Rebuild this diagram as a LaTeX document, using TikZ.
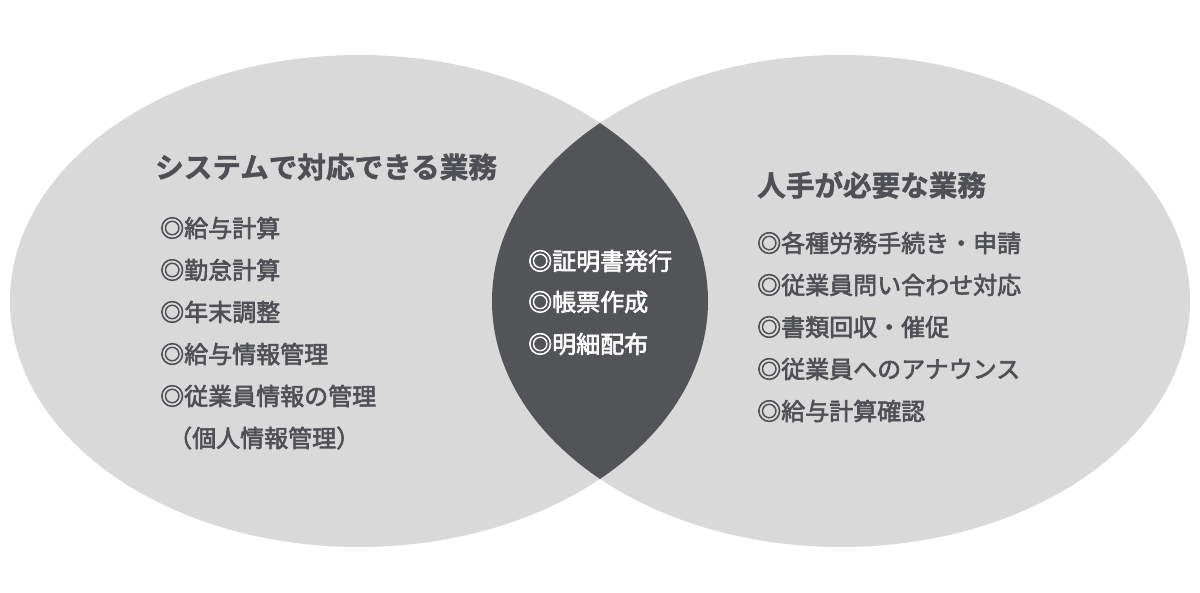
\documentclass[tikz,border=0pt]{standalone}
\usepackage{fontspec}
\setmainfont{Noto Sans CJK JP}
\newfontfamily\itemfont[FakeBold=2.5]{Noto Sans CJK JP}
\newfontfamily\titlefont[UprightFont=* Bold,FakeBold=1.5]{Noto Sans CJK JP}
\definecolor{lightg}{HTML}{D9D9D9}
\definecolor{darkg}{HTML}{535458}
\definecolor{txt}{HTML}{4F5055}
\begin{document}
\begin{tikzpicture}[x=1pt,y=-1pt,
  title/.style={anchor=west,inner sep=0pt,text=txt,font=\fontsize{28.6}{30}\titlefont},
  item/.style={anchor=west,inner sep=0pt,text=txt,font=\fontsize{24}{26}\itemfont},
  citem/.style={anchor=west,inner sep=0pt,text=white,font=\fontsize{24}{26}\itemfont}]
\useasboundingbox (0,0) rectangle (1200,593);
\fill[lightg] (359,301) ellipse [x radius=349pt, y radius=246pt];
\fill[lightg] (841,301) ellipse [x radius=349pt, y radius=246pt];
\begin{scope}
\clip (359,301) ellipse [x radius=349pt, y radius=246pt];
\fill[darkg] (841,301) ellipse [x radius=349pt, y radius=246pt];
\end{scope}
% left
\node[title] (lt) at (155,167) {システムで対応できる業務};
\node[item] (l1) at (160,228) {◎給与計算};
\node[item] (l2) at (160,270) {◎勤怠計算};
\node[item] (l3) at (160,312) {◎年末調整};
\node[item] (l4) at (160,354) {◎給与情報管理};
\node[item] (l5) at (160,396) {◎従業員情報の管理};
\node[item] (l6) at (168,438) {（個人情報管理）};
% center
\node[citem] (c1) at (528,261) {◎証明書発行};
\node[citem] (c2) at (528,302) {◎帳票作成};
\node[citem] (c3) at (528,344) {◎明細配布};
% right
\node[title] (rt) at (757,185) {人手が必要な業務};
\node[item] (r1) at (757,243) {◎各種労務手続き・申請};
\node[item] (r2) at (757,285) {◎従業員問い合わせ対応};
\node[item] (r3) at (757,327) {◎書類回収・催促};
\node[item] (r4) at (757,369) {◎従業員へのアナウンス};
\node[item] (r5) at (757,411) {◎給与計算確認};
\end{tikzpicture}
\end{document}
